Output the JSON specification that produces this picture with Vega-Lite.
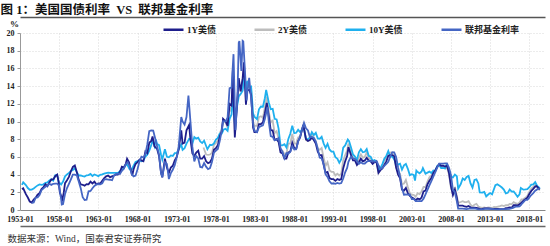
{
"$schema":"https://vega.github.io/schema/vega-lite/v6.json",
"width":525,"height":177,
"autosize":{"type":"none"},
"padding":{"left":20,"top":33,"right":5,"bottom":36},
"datasets":{
"y10":[{"d":"1953-04","v":2.83},{"d":"1953-06","v":3.13},{"d":"1953-10","v":2.82},{"d":"1954-01","v":2.48},{"d":"1954-04","v":2.29},{"d":"1954-07","v":2.30},{"d":"1954-10","v":2.43},{"d":"1955-01","v":2.61},{"d":"1955-04","v":2.78},{"d":"1955-07","v":2.90},{"d":"1955-10","v":2.85},{"d":"1956-01","v":2.90},{"d":"1956-04","v":3.07},{"d":"1956-07","v":3.11},{"d":"1956-10","v":3.33},{"d":"1957-01","v":3.46},{"d":"1957-04","v":3.32},{"d":"1957-07","v":3.93},{"d":"1957-10","v":3.97},{"d":"1957-12","v":3.21},{"d":"1958-04","v":2.88},{"d":"1958-07","v":3.21},{"d":"1958-10","v":3.80},{"d":"1959-01","v":4.02},{"d":"1959-04","v":4.19},{"d":"1959-07","v":4.40},{"d":"1959-10","v":4.53},{"d":"1960-01","v":4.72},{"d":"1960-04","v":4.28},{"d":"1960-07","v":3.90},{"d":"1960-10","v":3.91},{"d":"1961-01","v":3.84},{"d":"1961-04","v":3.78},{"d":"1961-07","v":3.92},{"d":"1961-10","v":3.94},{"d":"1962-01","v":4.08},{"d":"1962-04","v":3.84},{"d":"1962-07","v":4.01},{"d":"1962-10","v":3.93},{"d":"1963-01","v":3.83},{"d":"1963-04","v":3.97},{"d":"1963-07","v":4.02},{"d":"1963-10","v":4.11},{"d":"1964-01","v":4.17},{"d":"1964-04","v":4.23},{"d":"1964-07","v":4.20},{"d":"1964-10","v":4.19},{"d":"1965-01","v":4.19},{"d":"1965-04","v":4.20},{"d":"1965-07","v":4.20},{"d":"1965-10","v":4.38},{"d":"1966-01","v":4.61},{"d":"1966-04","v":4.69},{"d":"1966-08","v":5.22},{"d":"1966-10","v":5.01},{"d":"1967-01","v":4.58},{"d":"1967-04","v":4.55},{"d":"1967-07","v":5.01},{"d":"1967-10","v":5.43},{"d":"1968-01","v":5.53},{"d":"1968-04","v":5.59},{"d":"1968-07","v":5.50},{"d":"1968-10","v":5.58},{"d":"1969-01","v":6.04},{"d":"1969-04","v":6.26},{"d":"1969-07","v":6.72},{"d":"1969-10","v":7.33},{"d":"1969-12","v":7.88},{"d":"1970-03","v":7.21},{"d":"1970-05","v":7.97},{"d":"1970-07","v":7.46},{"d":"1970-10","v":7.33},{"d":"1971-01","v":6.24},{"d":"1971-03","v":5.70},{"d":"1971-07","v":6.87},{"d":"1971-10","v":6.01},{"d":"1972-01","v":5.95},{"d":"1972-04","v":6.17},{"d":"1972-07","v":6.11},{"d":"1972-10","v":6.42},{"d":"1973-01","v":6.46},{"d":"1973-04","v":6.85},{"d":"1973-08","v":7.40},{"d":"1973-10","v":6.79},{"d":"1974-01","v":6.99},{"d":"1974-04","v":7.51},{"d":"1974-08","v":8.04},{"d":"1974-10","v":7.97},{"d":"1975-01","v":7.50},{"d":"1975-04","v":8.25},{"d":"1975-07","v":8.06},{"d":"1975-10","v":8.17},{"d":"1976-01","v":7.74},{"d":"1976-04","v":7.56},{"d":"1976-07","v":7.83},{"d":"1976-12","v":6.87},{"d":"1977-04","v":7.37},{"d":"1977-07","v":7.33},{"d":"1977-10","v":7.52},{"d":"1978-01","v":7.96},{"d":"1978-04","v":8.15},{"d":"1978-07","v":8.64},{"d":"1978-10","v":8.64},{"d":"1979-01","v":9.10},{"d":"1979-04","v":9.18},{"d":"1979-07","v":8.95},{"d":"1979-10","v":10.30},{"d":"1980-01","v":10.80},{"d":"1980-03","v":12.75},{"d":"1980-06","v":9.78},{"d":"1980-09","v":11.51},{"d":"1980-12","v":12.84},{"d":"1981-03","v":13.12},{"d":"1981-06","v":13.47},{"d":"1981-09","v":15.32},{"d":"1981-11","v":13.39},{"d":"1982-01","v":14.59},{"d":"1982-04","v":13.87},{"d":"1982-07","v":13.95},{"d":"1982-10","v":10.91},{"d":"1982-12","v":10.54},{"d":"1983-04","v":10.26},{"d":"1983-07","v":11.38},{"d":"1983-10","v":11.69},{"d":"1984-01","v":11.67},{"d":"1984-04","v":12.63},{"d":"1984-06","v":13.56},{"d":"1984-10","v":12.16},{"d":"1985-01","v":11.38},{"d":"1985-04","v":11.43},{"d":"1985-07","v":10.31},{"d":"1985-10","v":10.24},{"d":"1986-01","v":9.19},{"d":"1986-04","v":7.30},{"d":"1986-07","v":7.30},{"d":"1986-10","v":7.43},{"d":"1987-01","v":7.08},{"d":"1987-04","v":8.02},{"d":"1987-07","v":8.62},{"d":"1987-10","v":9.52},{"d":"1988-01","v":8.67},{"d":"1988-04","v":8.72},{"d":"1988-07","v":9.06},{"d":"1988-10","v":8.80},{"d":"1989-01","v":9.09},{"d":"1989-04","v":9.18},{"d":"1989-07","v":8.02},{"d":"1989-10","v":8.01},{"d":"1990-01","v":8.21},{"d":"1990-04","v":8.79},{"d":"1990-07","v":8.47},{"d":"1990-10","v":8.72},{"d":"1991-01","v":8.09},{"d":"1991-04","v":8.04},{"d":"1991-07","v":8.27},{"d":"1991-10","v":7.53},{"d":"1992-01","v":7.03},{"d":"1992-04","v":7.48},{"d":"1992-07","v":6.84},{"d":"1992-10","v":6.59},{"d":"1993-01","v":6.60},{"d":"1993-04","v":5.97},{"d":"1993-07","v":5.81},{"d":"1993-10","v":5.33},{"d":"1994-01","v":5.75},{"d":"1994-04","v":7.04},{"d":"1994-07","v":7.30},{"d":"1994-11","v":7.96},{"d":"1995-01","v":7.78},{"d":"1995-04","v":7.06},{"d":"1995-07","v":6.28},{"d":"1995-10","v":6.04},{"d":"1996-01","v":5.65},{"d":"1996-04","v":6.51},{"d":"1996-07","v":6.87},{"d":"1996-10","v":6.53},{"d":"1997-01","v":6.58},{"d":"1997-04","v":6.89},{"d":"1997-07","v":6.12},{"d":"1997-10","v":6.03},{"d":"1998-01","v":5.54},{"d":"1998-04","v":5.64},{"d":"1998-07","v":5.46},{"d":"1998-10","v":4.53},{"d":"1999-01","v":4.72},{"d":"1999-04","v":5.18},{"d":"1999-07","v":5.79},{"d":"1999-10","v":6.11},{"d":"2000-01","v":6.66},{"d":"2000-04","v":5.99},{"d":"2000-07","v":6.05},{"d":"2000-10","v":5.74},{"d":"2001-01","v":5.16},{"d":"2001-04","v":5.14},{"d":"2001-07","v":5.24},{"d":"2001-10","v":4.57},{"d":"2002-01","v":5.04},{"d":"2002-04","v":5.21},{"d":"2002-07","v":4.65},{"d":"2002-10","v":3.94},{"d":"2003-01","v":4.05},{"d":"2003-04","v":3.96},{"d":"2003-06","v":3.33},{"d":"2003-08","v":4.45},{"d":"2003-10","v":4.29},{"d":"2004-01","v":4.15},{"d":"2004-04","v":4.35},{"d":"2004-06","v":4.73},{"d":"2004-10","v":4.10},{"d":"2005-01","v":4.22},{"d":"2005-04","v":4.34},{"d":"2005-07","v":4.18},{"d":"2005-10","v":4.46},{"d":"2006-01","v":4.42},{"d":"2006-04","v":4.99},{"d":"2006-07","v":5.09},{"d":"2006-10","v":4.73},{"d":"2007-01","v":4.76},{"d":"2007-04","v":4.69},{"d":"2007-06","v":5.10},{"d":"2007-10","v":4.53},{"d":"2008-01","v":3.74},{"d":"2008-04","v":3.68},{"d":"2008-07","v":4.01},{"d":"2008-10","v":3.81},{"d":"2008-12","v":2.42},{"d":"2009-04","v":2.93},{"d":"2009-07","v":3.56},{"d":"2009-10","v":3.39},{"d":"2010-01","v":3.73},{"d":"2010-04","v":3.85},{"d":"2010-07","v":3.01},{"d":"2010-10","v":2.54},{"d":"2011-01","v":3.39},{"d":"2011-04","v":3.46},{"d":"2011-07","v":3.00},{"d":"2011-09","v":1.98},{"d":"2012-01","v":1.97},{"d":"2012-04","v":2.05},{"d":"2012-07","v":1.53},{"d":"2012-10","v":1.75},{"d":"2013-01","v":1.91},{"d":"2013-04","v":1.76},{"d":"2013-09","v":2.81},{"d":"2013-12","v":2.90},{"d":"2014-04","v":2.71},{"d":"2014-07","v":2.54},{"d":"2014-10","v":2.30},{"d":"2015-01","v":1.88},{"d":"2015-04","v":1.94},{"d":"2015-07","v":2.32},{"d":"2015-10","v":2.07},{"d":"2016-01","v":2.09},{"d":"2016-04","v":1.81},{"d":"2016-07","v":1.50},{"d":"2016-10","v":1.76},{"d":"2016-12","v":2.49},{"d":"2017-04","v":2.30},{"d":"2017-07","v":2.32},{"d":"2017-10","v":2.36},{"d":"2018-01","v":2.58},{"d":"2018-04","v":2.87},{"d":"2018-07","v":2.89},{"d":"2018-10","v":3.15},{"d":"2019-01","v":2.71},{"d":"2019-04","v":2.53},{"d":"2019-05","v":2.40}],
"y1":[{"d":"1953-04","v":2.36},{"d":"1953-06","v":2.45},{"d":"1953-10","v":1.79},{"d":"1954-01","v":1.41},{"d":"1954-04","v":0.96},{"d":"1954-07","v":0.84},{"d":"1954-10","v":1.17},{"d":"1955-01","v":1.39},{"d":"1955-04","v":1.73},{"d":"1955-07","v":1.90},{"d":"1955-10","v":2.36},{"d":"1956-01","v":2.60},{"d":"1956-04","v":2.92},{"d":"1956-07","v":2.68},{"d":"1956-10","v":3.10},{"d":"1957-01","v":3.45},{"d":"1957-04","v":3.45},{"d":"1957-07","v":3.82},{"d":"1957-10","v":3.99},{"d":"1957-12","v":3.27},{"d":"1958-02","v":1.98},{"d":"1958-06","v":1.21},{"d":"1958-08","v":1.93},{"d":"1958-10","v":3.03},{"d":"1959-01","v":3.36},{"d":"1959-04","v":3.74},{"d":"1959-07","v":4.38},{"d":"1959-10","v":4.87},{"d":"1960-01","v":5.03},{"d":"1960-04","v":4.30},{"d":"1960-07","v":3.40},{"d":"1960-10","v":2.90},{"d":"1961-01","v":2.85},{"d":"1961-04","v":2.75},{"d":"1961-07","v":2.92},{"d":"1961-10","v":2.90},{"d":"1962-01","v":3.20},{"d":"1962-04","v":3.00},{"d":"1962-07","v":3.20},{"d":"1962-10","v":2.90},{"d":"1963-01","v":3.00},{"d":"1963-04","v":3.00},{"d":"1963-07","v":3.30},{"d":"1963-10","v":3.60},{"d":"1964-01","v":3.80},{"d":"1964-04","v":3.90},{"d":"1964-07","v":3.70},{"d":"1964-10","v":3.80},{"d":"1965-01","v":3.90},{"d":"1965-04","v":4.00},{"d":"1965-07","v":4.00},{"d":"1965-10","v":4.30},{"d":"1966-01","v":4.90},{"d":"1966-04","v":4.80},{"d":"1966-07","v":5.20},{"d":"1966-09","v":5.80},{"d":"1966-12","v":5.40},{"d":"1967-03","v":4.50},{"d":"1967-05","v":3.90},{"d":"1967-07","v":4.60},{"d":"1967-10","v":5.20},{"d":"1968-01","v":5.40},{"d":"1968-04","v":5.70},{"d":"1968-07","v":5.60},{"d":"1968-10","v":5.50},{"d":"1969-01","v":6.60},{"d":"1969-04","v":6.40},{"d":"1969-07","v":7.60},{"d":"1969-10","v":7.80},{"d":"1969-12","v":8.30},{"d":"1970-03","v":7.20},{"d":"1970-07","v":6.90},{"d":"1970-10","v":6.10},{"d":"1971-01","v":4.20},{"d":"1971-03","v":3.70},{"d":"1971-07","v":5.80},{"d":"1971-10","v":4.80},{"d":"1972-01","v":4.20},{"d":"1972-04","v":4.80},{"d":"1972-07","v":5.00},{"d":"1972-10","v":5.60},{"d":"1973-01","v":6.00},{"d":"1973-04","v":6.80},{"d":"1973-08","v":9.00},{"d":"1973-10","v":7.50},{"d":"1974-01","v":7.60},{"d":"1974-04","v":9.00},{"d":"1974-08","v":9.60},{"d":"1974-10","v":8.00},{"d":"1975-01","v":6.40},{"d":"1975-04","v":6.10},{"d":"1975-07","v":6.50},{"d":"1975-10","v":6.70},{"d":"1976-01","v":5.80},{"d":"1976-04","v":5.80},{"d":"1976-07","v":6.10},{"d":"1976-10","v":5.50},{"d":"1977-01","v":5.30},{"d":"1977-04","v":5.40},{"d":"1977-07","v":5.80},{"d":"1977-10","v":6.80},{"d":"1978-01","v":7.00},{"d":"1978-04","v":7.30},{"d":"1978-07","v":8.30},{"d":"1978-10","v":8.90},{"d":"1978-12","v":10.30},{"d":"1979-04","v":10.00},{"d":"1979-07","v":9.50},{"d":"1979-10","v":12.00},{"d":"1980-01","v":11.80},{"d":"1980-03","v":15.80},{"d":"1980-06","v":8.20},{"d":"1980-09","v":11.50},{"d":"1980-12","v":14.90},{"d":"1981-03","v":13.40},{"d":"1981-06","v":14.90},{"d":"1981-08","v":16.70},{"d":"1981-11","v":11.90},{"d":"1982-01","v":13.50},{"d":"1982-04","v":13.60},{"d":"1982-07","v":13.00},{"d":"1982-10","v":9.30},{"d":"1982-12","v":8.80},{"d":"1983-04","v":8.80},{"d":"1983-07","v":9.70},{"d":"1983-10","v":9.70},{"d":"1984-01","v":9.90},{"d":"1984-04","v":10.90},{"d":"1984-07","v":12.10},{"d":"1984-10","v":10.60},{"d":"1985-01","v":9.00},{"d":"1985-04","v":9.00},{"d":"1985-07","v":7.90},{"d":"1985-10","v":8.00},{"d":"1986-01","v":7.70},{"d":"1986-04","v":6.50},{"d":"1986-07","v":6.40},{"d":"1986-10","v":5.80},{"d":"1987-01","v":5.80},{"d":"1987-04","v":6.50},{"d":"1987-07","v":6.60},{"d":"1987-10","v":7.60},{"d":"1988-01","v":7.00},{"d":"1988-04","v":6.90},{"d":"1988-07","v":7.80},{"d":"1988-10","v":8.20},{"d":"1989-01","v":9.10},{"d":"1989-03","v":9.60},{"d":"1989-07","v":8.00},{"d":"1989-10","v":7.80},{"d":"1990-01","v":7.90},{"d":"1990-04","v":8.20},{"d":"1990-07","v":7.90},{"d":"1990-10","v":7.50},{"d":"1991-01","v":6.60},{"d":"1991-04","v":6.20},{"d":"1991-07","v":6.20},{"d":"1991-10","v":5.10},{"d":"1992-01","v":4.20},{"d":"1992-04","v":4.30},{"d":"1992-07","v":3.60},{"d":"1992-10","v":3.50},{"d":"1993-01","v":3.50},{"d":"1993-04","v":3.30},{"d":"1993-07","v":3.50},{"d":"1993-10","v":3.40},{"d":"1994-01","v":3.50},{"d":"1994-04","v":4.70},{"d":"1994-07","v":5.50},{"d":"1994-10","v":6.10},{"d":"1994-12","v":7.10},{"d":"1995-04","v":6.20},{"d":"1995-07","v":5.60},{"d":"1995-10","v":5.60},{"d":"1996-01","v":5.10},{"d":"1996-04","v":5.40},{"d":"1996-07","v":5.80},{"d":"1996-10","v":5.50},{"d":"1997-01","v":5.60},{"d":"1997-04","v":5.90},{"d":"1997-07","v":5.60},{"d":"1997-10","v":5.50},{"d":"1998-01","v":5.20},{"d":"1998-04","v":5.40},{"d":"1998-07","v":5.40},{"d":"1998-10","v":4.20},{"d":"1999-01","v":4.50},{"d":"1999-04","v":4.70},{"d":"1999-07","v":5.10},{"d":"1999-10","v":5.50},{"d":"2000-01","v":6.10},{"d":"2000-04","v":6.20},{"d":"2000-07","v":6.20},{"d":"2000-10","v":6.10},{"d":"2001-01","v":4.80},{"d":"2001-04","v":4.00},{"d":"2001-07","v":3.60},{"d":"2001-10","v":2.30},{"d":"2002-01","v":2.20},{"d":"2002-04","v":2.50},{"d":"2002-07","v":1.90},{"d":"2002-10","v":1.60},{"d":"2003-01","v":1.40},{"d":"2003-04","v":1.30},{"d":"2003-07","v":1.10},{"d":"2003-10","v":1.30},{"d":"2004-01","v":1.20},{"d":"2004-04","v":1.40},{"d":"2004-07","v":2.10},{"d":"2004-10","v":2.20},{"d":"2005-01","v":2.90},{"d":"2005-04","v":3.30},{"d":"2005-07","v":3.60},{"d":"2005-10","v":4.20},{"d":"2006-01","v":4.50},{"d":"2006-04","v":4.90},{"d":"2006-07","v":5.20},{"d":"2006-10","v":5.00},{"d":"2007-01","v":5.00},{"d":"2007-04","v":4.90},{"d":"2007-07","v":5.00},{"d":"2007-10","v":4.20},{"d":"2008-01","v":2.70},{"d":"2008-04","v":1.70},{"d":"2008-07","v":2.30},{"d":"2008-10","v":1.40},{"d":"2008-12","v":0.50},{"d":"2009-04","v":0.50},{"d":"2009-07","v":0.50},{"d":"2009-10","v":0.40},{"d":"2010-01","v":0.35},{"d":"2010-04","v":0.45},{"d":"2010-07","v":0.30},{"d":"2010-10","v":0.23},{"d":"2011-01","v":0.27},{"d":"2011-04","v":0.25},{"d":"2011-07","v":0.19},{"d":"2011-10","v":0.11},{"d":"2012-01","v":0.12},{"d":"2012-04","v":0.18},{"d":"2012-07","v":0.19},{"d":"2012-10","v":0.18},{"d":"2013-01","v":0.15},{"d":"2013-04","v":0.12},{"d":"2013-07","v":0.12},{"d":"2013-10","v":0.13},{"d":"2014-01","v":0.12},{"d":"2014-04","v":0.11},{"d":"2014-07","v":0.11},{"d":"2014-10","v":0.10},{"d":"2015-01","v":0.20},{"d":"2015-04","v":0.23},{"d":"2015-07","v":0.30},{"d":"2015-10","v":0.26},{"d":"2016-01","v":0.54},{"d":"2016-04","v":0.56},{"d":"2016-07","v":0.51},{"d":"2016-10","v":0.66},{"d":"2017-01","v":0.83},{"d":"2017-04","v":1.04},{"d":"2017-07","v":1.22},{"d":"2017-10","v":1.40},{"d":"2018-01","v":1.80},{"d":"2018-04","v":2.15},{"d":"2018-07","v":2.39},{"d":"2018-10","v":2.65},{"d":"2018-12","v":2.70},{"d":"2019-02","v":2.55},{"d":"2019-05","v":2.34}],
"y2":[{"d":"1976-06","v":7.06},{"d":"1976-10","v":6.27},{"d":"1977-01","v":6.23},{"d":"1977-04","v":6.27},{"d":"1977-07","v":6.45},{"d":"1977-10","v":7.35},{"d":"1978-01","v":7.56},{"d":"1978-04","v":7.86},{"d":"1978-07","v":8.63},{"d":"1978-10","v":9.24},{"d":"1978-12","v":10.10},{"d":"1979-04","v":9.90},{"d":"1979-07","v":9.30},{"d":"1979-10","v":11.60},{"d":"1980-01","v":11.10},{"d":"1980-03","v":14.70},{"d":"1980-06","v":8.70},{"d":"1980-09","v":11.60},{"d":"1980-12","v":14.10},{"d":"1981-03","v":13.40},{"d":"1981-06","v":14.60},{"d":"1981-08","v":16.10},{"d":"1981-11","v":12.40},{"d":"1982-01","v":14.10},{"d":"1982-04","v":13.80},{"d":"1982-07","v":13.60},{"d":"1982-10","v":10.00},{"d":"1982-12","v":9.50},{"d":"1983-04","v":9.50},{"d":"1983-07","v":10.50},{"d":"1983-10","v":10.60},{"d":"1984-01","v":10.40},{"d":"1984-04","v":11.60},{"d":"1984-07","v":12.80},{"d":"1984-10","v":11.10},{"d":"1985-01","v":9.90},{"d":"1985-04","v":10.10},{"d":"1985-07","v":8.70},{"d":"1985-10","v":8.90},{"d":"1986-01","v":8.10},{"d":"1986-04","v":6.80},{"d":"1986-07","v":6.70},{"d":"1986-10","v":6.30},{"d":"1987-01","v":6.30},{"d":"1987-04","v":7.50},{"d":"1987-07","v":7.50},{"d":"1987-10","v":8.60},{"d":"1988-01","v":7.50},{"d":"1988-04","v":7.50},{"d":"1988-07","v":8.20},{"d":"1988-10","v":8.30},{"d":"1989-01","v":9.20},{"d":"1989-03","v":9.60},{"d":"1989-07","v":7.90},{"d":"1989-10","v":7.80},{"d":"1990-01","v":8.00},{"d":"1990-04","v":8.70},{"d":"1990-07","v":8.20},{"d":"1990-10","v":7.80},{"d":"1991-01","v":7.00},{"d":"1991-04","v":6.80},{"d":"1991-07","v":7.00},{"d":"1991-10","v":5.90},{"d":"1992-01","v":5.00},{"d":"1992-04","v":5.40},{"d":"1992-07","v":4.50},{"d":"1992-10","v":4.30},{"d":"1993-01","v":4.30},{"d":"1993-04","v":3.90},{"d":"1993-07","v":4.10},{"d":"1993-10","v":3.90},{"d":"1994-01","v":4.10},{"d":"1994-04","v":5.60},{"d":"1994-07","v":6.20},{"d":"1994-10","v":6.70},{"d":"1994-12","v":7.50},{"d":"1995-04","v":6.50},{"d":"1995-07","v":5.90},{"d":"1995-10","v":5.80},{"d":"1996-01","v":5.20},{"d":"1996-04","v":5.90},{"d":"1996-07","v":6.30},{"d":"1996-10","v":5.90},{"d":"1997-01","v":6.00},{"d":"1997-04","v":6.50},{"d":"1997-07","v":5.90},{"d":"1997-10","v":5.80},{"d":"1998-01","v":5.30},{"d":"1998-04","v":5.60},{"d":"1998-07","v":5.50},{"d":"1998-10","v":4.20},{"d":"1999-01","v":4.60},{"d":"1999-04","v":5.00},{"d":"1999-07","v":5.60},{"d":"1999-10","v":6.00},{"d":"2000-01","v":6.40},{"d":"2000-04","v":6.50},{"d":"2000-07","v":6.40},{"d":"2000-10","v":6.00},{"d":"2001-01","v":4.80},{"d":"2001-04","v":4.30},{"d":"2001-07","v":4.10},{"d":"2001-10","v":2.90},{"d":"2002-01","v":3.00},{"d":"2002-04","v":3.40},{"d":"2002-07","v":2.60},{"d":"2002-10","v":1.90},{"d":"2003-01","v":1.70},{"d":"2003-04","v":1.70},{"d":"2003-07","v":1.50},{"d":"2003-10","v":1.90},{"d":"2004-01","v":1.80},{"d":"2004-04","v":2.10},{"d":"2004-07","v":2.60},{"d":"2004-10","v":2.60},{"d":"2005-01","v":3.20},{"d":"2005-04","v":3.70},{"d":"2005-07","v":3.90},{"d":"2005-10","v":4.20},{"d":"2006-01","v":4.40},{"d":"2006-04","v":4.90},{"d":"2006-07","v":5.10},{"d":"2006-10","v":4.80},{"d":"2007-01","v":4.80},{"d":"2007-04","v":4.70},{"d":"2007-07","v":4.80},{"d":"2007-10","v":4.00},{"d":"2008-01","v":2.50},{"d":"2008-04","v":1.80},{"d":"2008-07","v":2.60},{"d":"2008-10","v":1.60},{"d":"2008-12","v":0.80},{"d":"2009-04","v":0.90},{"d":"2009-07","v":1.00},{"d":"2009-10","v":0.90},{"d":"2010-01","v":0.90},{"d":"2010-04","v":1.00},{"d":"2010-07","v":0.60},{"d":"2010-10","v":0.40},{"d":"2011-01","v":0.60},{"d":"2011-04","v":0.70},{"d":"2011-07","v":0.40},{"d":"2011-10","v":0.30},{"d":"2012-01","v":0.24},{"d":"2012-04","v":0.30},{"d":"2012-07","v":0.22},{"d":"2012-10","v":0.28},{"d":"2013-01","v":0.27},{"d":"2013-04","v":0.23},{"d":"2013-07","v":0.34},{"d":"2013-10","v":0.32},{"d":"2014-01","v":0.39},{"d":"2014-04","v":0.44},{"d":"2014-07","v":0.51},{"d":"2014-10","v":0.45},{"d":"2015-01","v":0.55},{"d":"2015-04","v":0.54},{"d":"2015-07","v":0.69},{"d":"2015-10","v":0.64},{"d":"2016-01","v":0.90},{"d":"2016-04","v":0.77},{"d":"2016-07","v":0.67},{"d":"2016-10","v":0.84},{"d":"2017-01","v":1.21},{"d":"2017-04","v":1.24},{"d":"2017-07","v":1.37},{"d":"2017-10","v":1.59},{"d":"2018-01","v":2.03},{"d":"2018-04","v":2.42},{"d":"2018-07","v":2.61},{"d":"2018-10","v":2.86},{"d":"2018-12","v":2.68},{"d":"2019-02","v":2.50},{"d":"2019-05","v":2.21}],
"ff":[{"d":"1954-07","v":0.80},{"d":"1954-10","v":0.85},{"d":"1955-01","v":1.39},{"d":"1955-04","v":1.43},{"d":"1955-07","v":1.68},{"d":"1955-10","v":2.24},{"d":"1956-01","v":2.45},{"d":"1956-04","v":2.62},{"d":"1956-07","v":2.75},{"d":"1956-10","v":2.96},{"d":"1957-01","v":2.84},{"d":"1957-04","v":2.96},{"d":"1957-07","v":2.99},{"d":"1957-10","v":2.99},{"d":"1958-01","v":2.72},{"d":"1958-04","v":1.26},{"d":"1958-05","v":0.63},{"d":"1958-07","v":0.68},{"d":"1958-10","v":1.80},{"d":"1959-01","v":2.48},{"d":"1959-04","v":2.96},{"d":"1959-07","v":3.47},{"d":"1959-10","v":4.00},{"d":"1960-01","v":3.99},{"d":"1960-04","v":3.92},{"d":"1960-07","v":3.23},{"d":"1960-10","v":2.47},{"d":"1961-01","v":1.45},{"d":"1961-04","v":1.13},{"d":"1961-07","v":1.17},{"d":"1961-10","v":2.11},{"d":"1962-01","v":2.15},{"d":"1962-04","v":2.46},{"d":"1962-07","v":2.71},{"d":"1962-10","v":2.90},{"d":"1963-01","v":2.92},{"d":"1963-04","v":2.90},{"d":"1963-07","v":3.02},{"d":"1963-10","v":3.45},{"d":"1964-01","v":3.48},{"d":"1964-04","v":3.43},{"d":"1964-07","v":3.42},{"d":"1964-10","v":3.36},{"d":"1965-01","v":3.90},{"d":"1965-04","v":4.07},{"d":"1965-07","v":4.10},{"d":"1965-10","v":4.07},{"d":"1966-01","v":4.42},{"d":"1966-04","v":4.65},{"d":"1966-07","v":5.17},{"d":"1966-10","v":5.40},{"d":"1967-01","v":4.94},{"d":"1967-04","v":4.06},{"d":"1967-07","v":3.79},{"d":"1967-10","v":3.88},{"d":"1968-01","v":4.61},{"d":"1968-04","v":5.50},{"d":"1968-07","v":6.02},{"d":"1968-10","v":5.92},{"d":"1969-01","v":6.30},{"d":"1969-04","v":7.41},{"d":"1969-07","v":8.90},{"d":"1969-10","v":9.00},{"d":"1970-01","v":8.98},{"d":"1970-04","v":8.10},{"d":"1970-07","v":7.21},{"d":"1970-10","v":6.20},{"d":"1971-01","v":4.14},{"d":"1971-03","v":3.71},{"d":"1971-07","v":5.40},{"d":"1971-10","v":5.20},{"d":"1972-01","v":3.50},{"d":"1972-04","v":4.17},{"d":"1972-07","v":4.55},{"d":"1972-10","v":5.06},{"d":"1973-01","v":5.94},{"d":"1973-04","v":7.12},{"d":"1973-08","v":10.50},{"d":"1973-10","v":10.01},{"d":"1974-01","v":9.65},{"d":"1974-04","v":10.51},{"d":"1974-07","v":12.92},{"d":"1974-10","v":10.06},{"d":"1975-01","v":7.13},{"d":"1975-04","v":5.49},{"d":"1975-07","v":6.10},{"d":"1975-10","v":5.82},{"d":"1976-01","v":4.87},{"d":"1976-04","v":4.82},{"d":"1976-07","v":5.31},{"d":"1976-10","v":4.90},{"d":"1977-01","v":4.61},{"d":"1977-04","v":4.73},{"d":"1977-07","v":5.42},{"d":"1977-10","v":6.47},{"d":"1978-01","v":6.70},{"d":"1978-04","v":6.90},{"d":"1978-07","v":7.81},{"d":"1978-10","v":8.96},{"d":"1978-12","v":10.03},{"d":"1979-04","v":10.01},{"d":"1979-07","v":10.47},{"d":"1979-10","v":13.77},{"d":"1980-01","v":13.82},{"d":"1980-04","v":17.61},{"d":"1980-07","v":9.03},{"d":"1980-10","v":12.81},{"d":"1980-12","v":18.90},{"d":"1981-01","v":19.08},{"d":"1981-04","v":15.72},{"d":"1981-06","v":19.10},{"d":"1981-07","v":19.04},{"d":"1981-10","v":15.08},{"d":"1981-12","v":12.37},{"d":"1982-01","v":13.22},{"d":"1982-04","v":14.94},{"d":"1982-07","v":12.59},{"d":"1982-10","v":9.71},{"d":"1982-12","v":8.95},{"d":"1983-04","v":8.80},{"d":"1983-07","v":9.37},{"d":"1983-10","v":9.48},{"d":"1984-01","v":9.56},{"d":"1984-04","v":10.29},{"d":"1984-08","v":11.64},{"d":"1984-10","v":9.99},{"d":"1985-01","v":8.35},{"d":"1985-04","v":8.27},{"d":"1985-07","v":7.88},{"d":"1985-10","v":7.92},{"d":"1986-01","v":8.14},{"d":"1986-04","v":6.99},{"d":"1986-07","v":6.56},{"d":"1986-10","v":5.85},{"d":"1987-01","v":6.43},{"d":"1987-04","v":6.36},{"d":"1987-07","v":6.58},{"d":"1987-10","v":7.22},{"d":"1988-01","v":6.83},{"d":"1988-04","v":6.87},{"d":"1988-07","v":7.75},{"d":"1988-10","v":8.30},{"d":"1989-01","v":9.12},{"d":"1989-04","v":9.84},{"d":"1989-07","v":9.24},{"d":"1989-10","v":8.99},{"d":"1990-01","v":8.23},{"d":"1990-04","v":8.26},{"d":"1990-07","v":8.15},{"d":"1990-10","v":7.74},{"d":"1991-01","v":6.91},{"d":"1991-04","v":5.91},{"d":"1991-07","v":5.82},{"d":"1991-10","v":5.21},{"d":"1992-01","v":4.03},{"d":"1992-04","v":3.73},{"d":"1992-07","v":3.25},{"d":"1992-10","v":2.99},{"d":"1993-01","v":3.02},{"d":"1993-04","v":2.96},{"d":"1993-07","v":3.06},{"d":"1993-10","v":2.99},{"d":"1994-01","v":3.05},{"d":"1994-04","v":3.56},{"d":"1994-07","v":4.26},{"d":"1994-10","v":4.76},{"d":"1994-12","v":5.45},{"d":"1995-04","v":6.05},{"d":"1995-07","v":5.85},{"d":"1995-10","v":5.76},{"d":"1996-01","v":5.56},{"d":"1996-04","v":5.22},{"d":"1996-07","v":5.40},{"d":"1996-10","v":5.24},{"d":"1997-01","v":5.25},{"d":"1997-04","v":5.45},{"d":"1997-07","v":5.54},{"d":"1997-10","v":5.50},{"d":"1998-01","v":5.56},{"d":"1998-04","v":5.45},{"d":"1998-07","v":5.54},{"d":"1998-10","v":5.07},{"d":"1999-01","v":4.63},{"d":"1999-04","v":4.74},{"d":"1999-07","v":4.99},{"d":"1999-10","v":5.20},{"d":"2000-01","v":5.45},{"d":"2000-04","v":6.02},{"d":"2000-07","v":6.54},{"d":"2000-10","v":6.51},{"d":"2001-01","v":5.98},{"d":"2001-04","v":4.80},{"d":"2001-07","v":3.77},{"d":"2001-10","v":2.49},{"d":"2002-01","v":1.73},{"d":"2002-04","v":1.75},{"d":"2002-07","v":1.73},{"d":"2002-10","v":1.75},{"d":"2003-01","v":1.24},{"d":"2003-04","v":1.26},{"d":"2003-07","v":1.01},{"d":"2003-10","v":1.01},{"d":"2004-01","v":1.00},{"d":"2004-04","v":1.00},{"d":"2004-07","v":1.28},{"d":"2004-10","v":1.76},{"d":"2005-01","v":2.28},{"d":"2005-04","v":2.79},{"d":"2005-07","v":3.26},{"d":"2005-10","v":3.78},{"d":"2006-01","v":4.29},{"d":"2006-04","v":4.79},{"d":"2006-07","v":5.24},{"d":"2006-10","v":5.25},{"d":"2007-01","v":5.25},{"d":"2007-04","v":5.26},{"d":"2007-07","v":5.26},{"d":"2007-10","v":4.76},{"d":"2008-01","v":3.94},{"d":"2008-04","v":2.28},{"d":"2008-07","v":2.01},{"d":"2008-10","v":0.97},{"d":"2008-12","v":0.16},{"d":"2009-07","v":0.16},{"d":"2010-01","v":0.11},{"d":"2010-07","v":0.18},{"d":"2011-01","v":0.17},{"d":"2011-07","v":0.07},{"d":"2012-01","v":0.08},{"d":"2012-07","v":0.16},{"d":"2013-01","v":0.14},{"d":"2013-07","v":0.09},{"d":"2014-01","v":0.07},{"d":"2014-07","v":0.09},{"d":"2015-01","v":0.11},{"d":"2015-07","v":0.13},{"d":"2015-12","v":0.24},{"d":"2016-04","v":0.37},{"d":"2016-07","v":0.39},{"d":"2016-10","v":0.40},{"d":"2016-12","v":0.54},{"d":"2017-01","v":0.65},{"d":"2017-04","v":0.90},{"d":"2017-07","v":1.15},{"d":"2017-10","v":1.15},{"d":"2017-12","v":1.30},{"d":"2018-01","v":1.41},{"d":"2018-04","v":1.69},{"d":"2018-07","v":1.91},{"d":"2018-10","v":2.19},{"d":"2018-12","v":2.27},{"d":"2019-02","v":2.40},{"d":"2019-05","v":2.38}]
},
"config":{
"view":{"stroke":null},
"axis":{"labelFont":"Liberation Serif","labelFontWeight":"bold","labelFontSize":8,"labelColor":"#222"}
},
"resolve":{"axis":{"x":"independent"}},
"layer":[
{
"encoding":{
"x":{"field":"d","type":"temporal","scale":{"type":"utc","domain":[{"year":1953,"month":1,"date":1,"utc":true},{"year":2020,"month":1,"date":1,"utc":true}]},
"axis":{"orient":"bottom","offset":16,"values":[{"year":1953,"month":1,"date":1,"utc":true},{"year":1958,"month":1,"date":1,"utc":true},{"year":1963,"month":1,"date":1,"utc":true},{"year":1968,"month":1,"date":1,"utc":true},{"year":1973,"month":1,"date":1,"utc":true},{"year":1978,"month":1,"date":1,"utc":true},{"year":1983,"month":1,"date":1,"utc":true},{"year":1988,"month":1,"date":1,"utc":true},{"year":1993,"month":1,"date":1,"utc":true},{"year":1998,"month":1,"date":1,"utc":true},{"year":2003,"month":1,"date":1,"utc":true},{"year":2008,"month":1,"date":1,"utc":true},{"year":2013,"month":1,"date":1,"utc":true},{"year":2018,"month":1,"date":1,"utc":true}],
"format":"%Y-%m","ticks":false,"tickSize":0,"labelPadding":-11,"labelOverlap":false,"labelFlush":false,
"domainColor":"#666","domainWidth":1.5,"grid":true,"gridColor":"#d9d9d9","gridDash":[1,2],
"title":"数据来源：Wind，国泰君安证券研究","titleX":-13,"titleY":12,"titleAlign":"left","titleAnchor":"start","titleBaseline":"middle","titleFont":"Liberation Serif, Noto Sans CJK SC","titleFontSize":9.5,"titleFontWeight":"normal","titleColor":"#333"}},
"y":{"field":"v","type":"quantitative","scale":{"domain":[0,20],"nice":false},
"axis":{"values":[0,2,4,6,8,10,12,14,16,18,20],"tickSize":3,"tickColor":"#999","labelPadding":3,"domainColor":"#999",
"grid":true,"gridColor":{"condition":{"test":"datum.value === 0","value":"#888"},"value":"#d9d9d9"},"gridDash":{"condition":{"test":"datum.value === 0","value":[]},"value":[1,2]},
"title":"%","titleAngle":0,"titleX":-6,"titleY":-10,"titleAlign":"center","titleBaseline":"middle","titleFont":"Liberation Serif","titleFontSize":9,"titleFontWeight":"bold","titleColor":"#222"}}
},
"layer":[
{"data":{"name":"y2"},"mark":{"type":"line","strokeWidth":1.8},
"encoding":{"color":{"datum":"2Y美债","scale":{"domain":["1Y美债","2Y美债","10Y美债","联邦基金利率"],"range":["#1e1e8c","#bdbdbd","#1fb0ee","#4566c4"]},
"legend":{"orient":"none","legendX":142,"legendY":-15,"direction":"horizontal","title":null,"symbolType":"stroke","symbolSize":400,"symbolStrokeWidth":2.5,"labelFont":"Liberation Serif, Noto Sans CJK SC","labelFontSize":9,"labelFontWeight":"bold","labelColor":"#222","columnPadding":33,"labelOffset":2,"padding":0}}}},
{"data":{"name":"y10"},"mark":{"type":"line","strokeWidth":1.8},"encoding":{"color":{"datum":"10Y美债"}}},
{"data":{"name":"y1"},"mark":{"type":"line","strokeWidth":1.8},"encoding":{"color":{"datum":"1Y美债"}}},
{"data":{"name":"ff"},"mark":{"type":"line","strokeWidth":1.8},"encoding":{"color":{"datum":"联邦基金利率"}}}
]
},
{
"data":{"name":"y10"},
"mark":{"type":"rule","strokeOpacity":0},
"encoding":{
"x":{"field":"d","type":"temporal","scale":{"type":"utc","domain":[{"year":1953,"month":1,"date":1,"utc":true},{"year":2020,"month":1,"date":1,"utc":true}]},
"axis":{"orient":"top","offset":16,"ticks":false,"labels":false,"grid":false,"domainColor":"#555","domainWidth":1.5,
"title":"图 1：美国国债利率\u00a0\u00a0VS\u00a0\u00a0联邦基金利率","titleX":-20,"titleY":-8,"titleAlign":"left","titleAnchor":"start","titleBaseline":"middle","titleFont":"Liberation Serif, Noto Sans CJK SC","titleFontSize":12.5,"titleFontWeight":"bold","titleColor":"#111"}}
}
}
]
}
